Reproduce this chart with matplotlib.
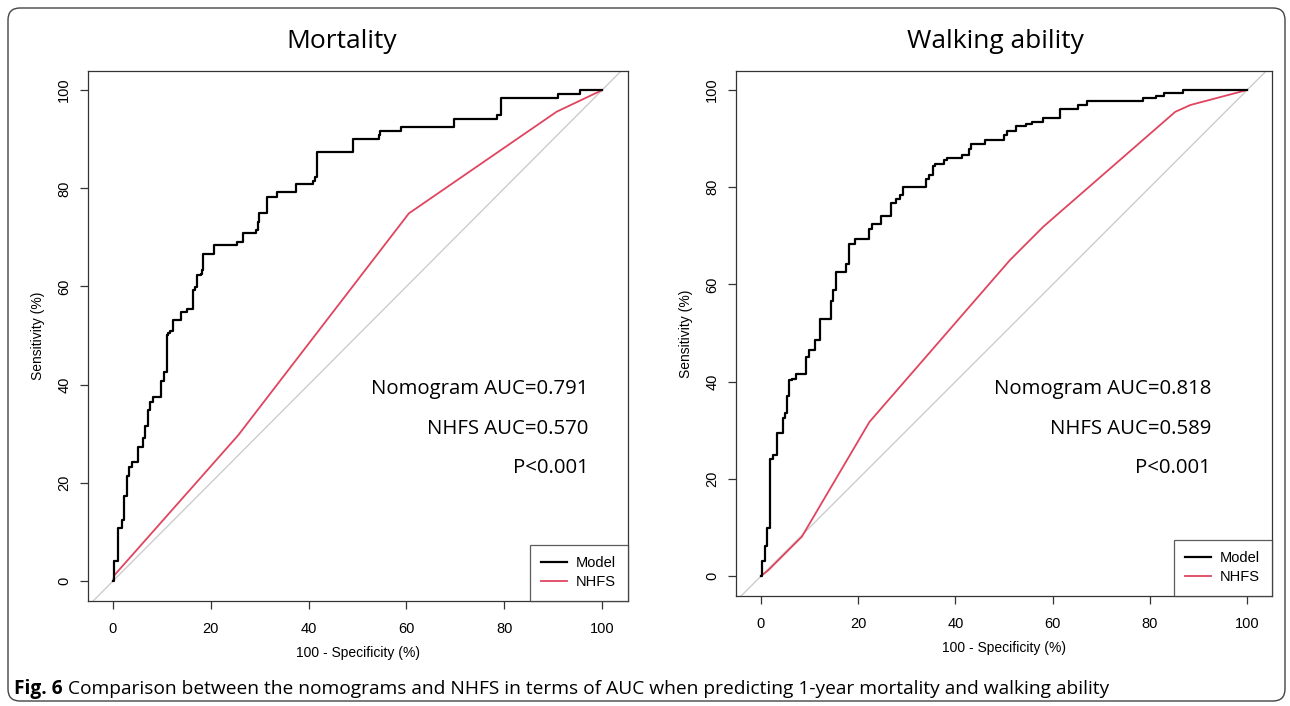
import matplotlib
matplotlib.use("Agg")
import matplotlib.pyplot as plt
from matplotlib.patches import FancyBboxPatch

# ROC data (x = 100 - specificity, y = sensitivity, both %)
mort_model_x = [0, 0.27, 1.09, 1.77, 2.32, 2.79, 3.34, 3.82, 5.04, 6.2, 6.54, 7.09, 7.57, 8.1,
                9.75, 10.4, 11.0, 11.3, 11.6, 12.2, 14.0, 15.1, 16.3, 16.8, 17.1, 17.9, 18.3,
                18.5, 20.7, 25.3, 26.6, 29.2, 29.7, 29.9, 31.4, 33.5, 37.4, 40.8, 41.3, 41.7,
                49.1, 54.3, 54.6, 58.9, 69.7, 78.5, 79.3, 90.9, 95.5, 100]
mort_model_y = [0, 4.1, 10.7, 12.4, 17.4, 21.4, 23.3, 24.2, 27.4, 29.1, 31.6, 34.8, 36.5, 37.4,
                40.7, 42.5, 50.1, 50.6, 51.0, 53.2, 54.9, 55.5, 59.3, 59.9, 62.3, 62.6, 63.3,
                66.6, 68.4, 69.1, 70.8, 71.5, 73.2, 74.9, 78.3, 79.2, 80.8, 81.5, 82.3, 87.4,
                90.0, 90.8, 91.6, 92.5, 94.1, 94.9, 98.3, 99.2, 100, 100]
mort_nhfs_x = [0, 0.3, 25.6, 60.5, 90.7, 100]
mort_nhfs_y = [0, 1.2, 29.7, 74.9, 95.6, 100]

walk_model_x = [0, 0.14, 0.82, 1.3, 1.85, 2.5, 3.2, 4.5, 4.9, 5.3, 5.8, 6.3, 7.2, 9.3, 9.9,
                11.1, 12.1, 14.4, 14.9, 15.4, 17.5, 18.0, 19.3, 22.3, 22.8, 24.6, 26.7, 27.8,
                28.6, 29.2, 34.0, 34.6, 35.3, 35.8, 37.7, 38.2, 41.4, 42.7, 43.1, 46.1, 49.9,
                50.6, 52.5, 54.5, 55.7, 58.1, 61.5, 65.3, 67.0, 78.5, 81.3, 82.8, 86.8, 100]
walk_model_y = [0, 3.1, 6.2, 9.8, 24.1, 24.9, 29.4, 32.6, 33.5, 37.0, 40.3, 40.6, 41.5, 45.1,
                46.5, 48.6, 52.8, 56.6, 58.8, 62.6, 64.3, 68.4, 69.3, 71.5, 72.4, 74.1, 76.7,
                77.6, 78.4, 80.0, 81.6, 82.5, 84.4, 84.8, 85.6, 86.1, 86.6, 87.8, 88.8, 89.7,
                90.7, 91.6, 92.5, 93.0, 93.5, 94.3, 96.0, 96.9, 97.8, 98.4, 98.8, 99.3, 100, 100]
walk_nhfs_x = [0, 1.5, 8.4, 22.3, 51.2, 58.1, 85.2, 88.3, 100]
walk_nhfs_y = [0, 1.2, 8.1, 31.7, 65.0, 71.9, 95.5, 96.9, 100]

titles = ["Mortality", "Walking ability"]
auc_text = [["Nomogram AUC=0.791", "NHFS AUC=0.570", "P<0.001"],
            ["Nomogram AUC=0.818", "NHFS AUC=0.589", "P<0.001"]]
ticks = [0, 20, 40, 60, 80, 100]

plt.rcParams["font.family"] = ["Liberation Sans", "DejaVu Sans"]

RED = "#E0445F"
W, H = 1290, 706

fig = plt.figure(figsize=(W / 100, H / 100), dpi=100)

# axes boxes in pixels: left, top, right, bottom
boxes = [(88, 71, 628, 601), (736, 71, 1272, 596)]
limits = [((-5.11, 105.3), (-4.07, 103.9)), ((-5.14, 105.1), (-4.1, 103.9))]
curves = [(mort_model_x, mort_model_y, mort_nhfs_x, mort_nhfs_y),
          (walk_model_x, walk_model_y, walk_nhfs_x, walk_nhfs_y)]
title_x = [342, 995]
text_pos = [(97.3, [39.1, 31.0, 23.0]), (92.6, [38.5, 30.2, 22.2])]

for i in range(2):
    l, t, r, b = boxes[i]
    ax = fig.add_axes([l / W, 1 - b / H, (r - l) / W, (b - t) / H])
    mx, my, nx, ny = curves[i]
    ax.axline((0, 0), (1, 1), color="#C8C8C8", lw=0.9, zorder=1)
    ax.plot(mx, my, drawstyle="steps-post", color="black", lw=1.6, label="Model", zorder=3)
    ax.plot(nx, ny, color=RED, lw=1.3, label="NHFS", zorder=2)
    ax.set_xlim(*limits[i][0])
    ax.set_ylim(*limits[i][1])
    ax.set_xticks(ticks)
    ax.set_yticks(ticks)
    ax.tick_params(direction="out", length=6, width=0.9, labelsize=10.5, color="#333333", pad=9)
    ax.tick_params(axis="y", pad=6)
    for lab in ax.get_yticklabels():
        lab.set_rotation(90)
        lab.set_va("center")
    for s in ax.spines.values():
        s.set_color("#333333")
        s.set_linewidth(0.9)
    ax.set_xlabel("100 - Specificity (%)", fontsize=10, labelpad=7)
    ax.set_ylabel("Sensitivity (%)", fontsize=10, labelpad=9)
    leg = ax.legend(loc="lower right", borderaxespad=0, fancybox=False, fontsize=10.5,
                    handlelength=1.8, handletextpad=0.6, labelspacing=0.35, borderpad=0.8)
    leg.get_frame().set_edgecolor("#333333")
    leg.get_frame().set_linewidth(0.9)
    tx, tys = text_pos[i]
    for s, ty in zip(auc_text[i], tys):
        ax.text(tx, ty, s, ha="right", va="center", fontsize=14.7, family="Open Sans")
    fig.text(title_x[i] / W, 1 - 42 / H, titles[i], ha="center", va="center",
             fontsize=19, family="Open Sans")

# caption
cap = fig.text(14 / W, 1 - 689 / H, "Fig. 6", ha="left", va="center", fontsize=13.8,
               family="Open Sans", weight="bold")
fig.canvas.draw()
bb = cap.get_window_extent()
fig.text((bb.x1 + 5) / W, 1 - 689 / H,
         "Comparison between the nomograms and NHFS in terms of AUC when predicting "
         "1-year mortality and walking ability",
         ha="left", va="center", fontsize=13.8, family="Open Sans")

border = FancyBboxPatch((8, 5), 1277, 693, boxstyle="round,pad=0,rounding_size=12",
                        transform=None, fill=False, edgecolor="#444444", lw=1)
fig.patches.append(border)

fig.savefig("out.png", dpi=100)
